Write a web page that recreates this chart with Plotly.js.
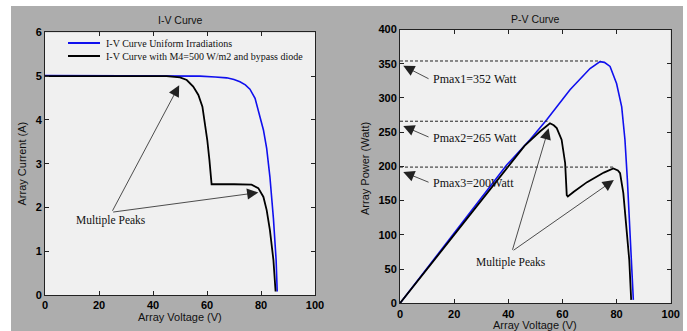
<!DOCTYPE html>
<html>
<head>
<meta charset="utf-8">
<script src="https://cdn.plot.ly/plotly-3.0.1.min.js"></script>
<style>html,body{margin:0;padding:0;background:#fff;}#chart{width:687px;height:331px;}</style>
</head>
<body>
<div id="chart"></div>
<script>
// ---- I-V curve data ----
const ivVoltUniform = [0, 20, 42.6, 57.4, 63, 67.3, 70, 72.2, 74.2, 75.9, 77.8, 79.4, 80.9, 82.1, 83.3, 84.6, 85.6, 86.0];
const ivCurUniform  = [5.01, 5.01, 5.01, 5.0, 4.98, 4.96, 4.92, 4.87, 4.80, 4.70, 4.49, 4.15, 3.77, 3.35, 2.70, 1.75, 0.80, 0.08];
const ivVoltShaded  = [0, 20, 45, 50, 52.5, 54.9, 56.8, 58.3, 59.3, 60.1, 60.9, 61.4, 61.7, 70, 76.5, 79, 80.9, 82.1, 83.3, 84.6, 85.4];
const ivCurShaded   = [5.0, 5.0, 5.0, 4.97, 4.91, 4.76, 4.57, 4.30, 3.92, 3.54, 3.08, 2.6, 2.53, 2.53, 2.52, 2.44, 2.24, 1.94, 1.48, 0.80, 0.08];

// ---- P-V curve data ----
const pvVoltUniform = [0, 39.4, 48, 54.2, 62.8, 70.2, 73.9, 75.5, 77.6, 80, 81.9, 83.1, 84, 84.8, 85.6, 86.2];
const pvPowUniform  = [0, 202, 239, 268, 312, 343, 353, 352, 346, 321, 287, 239, 180, 120, 63, 5];
const pvVoltShaded  = [0, 40, 46, 51.7, 54, 55.4, 56.8, 57.9, 59.7, 61, 61.6, 62, 64.2, 69.1, 75.3, 78.8, 80.5, 81.3, 82.5, 83.7, 84.7, 85.4];
const pvPowShaded   = [0, 200, 230, 251, 259, 263, 260, 256, 239, 205, 158, 156, 163, 177, 191, 197, 194, 190, 161, 112, 63, 5];

// ---- labels ----
const seriesNames = ['I-V Curve Uniform Irradiations', 'I-V Curve with M4=500 W/m2 and bypass diode'];
const axisTitles  = {ivX: 'Array Voltage (V)', ivY: 'Array Current (A)', pvX: 'Array Voltage (V)', pvY: 'Array Power (Watt)'};
const pmaxLabels  = ['Pmax1=352 Watt', 'Pmax2=265 Watt', 'Pmax3=200Watt'];
const pmaxLevels  = [354, 266, 199];   // dashed reference levels (W)
const pmaxVolts   = [74, 54.5, 79];    // voltage where each dashed line ends
const ivPeakV = [49.7, 79];  const ivPeakI = [4.79, 2.34];
const pvPeakV = [54.9, 79];  const pvPeakP = [255.7, 180];

const W = 687, H = 331;
const px = v => v / W, py = v => 1 - v / H;

const tickFont = {family: 'Liberation Sans, Arial, sans-serif', size: 11, color: '#000', weight: 700};
const titleFont = {family: 'Liberation Sans, Arial, sans-serif', size: 11, color: '#111'};
const serif = 'Liberation Serif, Times New Roman, serif';

function axis(extra) {
  return Object.assign({
    showline: true, linecolor: '#222', linewidth: 1, mirror: 'ticks',
    ticks: 'inside', ticklen: 4, tickcolor: '#222', showgrid: false, zeroline: false,
    tickfont: tickFont, fixedrange: true
  }, extra);
}

const blue = '#1010ee', black = '#000';
const traces = [
  {x: ivVoltUniform, y: ivCurUniform, xaxis: 'x', yaxis: 'y', mode: 'lines', name: seriesNames[0], line: {color: blue, width: 1.6}},
  {x: ivVoltShaded,  y: ivCurShaded,  xaxis: 'x', yaxis: 'y', mode: 'lines', name: seriesNames[1], line: {color: black, width: 1.8}},
  {x: pvVoltUniform, y: pvPowUniform, xaxis: 'x2', yaxis: 'y2', mode: 'lines', name: seriesNames[0], line: {color: blue, width: 1.6}},
  {x: pvVoltShaded,  y: pvPowShaded,  xaxis: 'x2', yaxis: 'y2', mode: 'lines', name: seriesNames[1], line: {color: black, width: 1.8}}
];

const shapes = [
  {type: 'rect', xref: 'paper', yref: 'paper', x0: 0, x1: px(11), y0: 0, y1: 1, fillcolor: '#fff', line: {width: 0}, layer: 'below'},
  {type: 'rect', xref: 'paper', yref: 'paper', x0: 0, x1: 1, y0: py(6), y1: 1, fillcolor: '#fff', line: {width: 0}, layer: 'below'},
  {type: 'rect', xref: 'paper', yref: 'paper', x0: px(683), x1: 1, y0: 0, y1: 1, fillcolor: '#fff', line: {width: 0}, layer: 'below'},
  // legend samples
  {type: 'line', xref: 'paper', yref: 'paper', x0: px(68), x1: px(100), y0: py(43), y1: py(43), line: {color: blue, width: 2}},
  {type: 'line', xref: 'paper', yref: 'paper', x0: px(68), x1: px(100), y0: py(56), y1: py(56), line: {color: black, width: 2}}
];
pmaxLevels.forEach((lv, i) => shapes.push({
  type: 'line', xref: 'x2', yref: 'y2', x0: 0, x1: pmaxVolts[i], y0: lv, y1: lv,
  line: {color: '#222', width: 1, dash: '3px,2px'}
}));

const arrowStyle = {showarrow: true, text: '', arrowhead: 2, arrowsize: 2.8, arrowwidth: 0.8, arrowcolor: '#222', standoff: 0};
const sub = (x, y, text, font, extra) => Object.assign({xref: 'paper', yref: 'paper', x: px(x), y: py(y), text: text, showarrow: false, font: font, xanchor: 'center', yanchor: 'middle'}, extra || {});
const annotations = [
  sub(180, 20, 'I-V Curve', {family: titleFont.family, size: 10.5, color: '#111'}),
  sub(535, 18.5, 'P-V Curve', {family: titleFont.family, size: 10.5, color: '#111'}),
  sub(180, 317, axisTitles.ivX, titleFont),
  sub(535, 325, axisTitles.pvX, titleFont),
  sub(21.5, 164, axisTitles.ivY, titleFont, {textangle: -90}),
  sub(365, 169, axisTitles.pvY, titleFont, {textangle: -90}),
  sub(104, 43, seriesNames[0], {family: serif, size: 10, color: '#111'}, {xanchor: 'left'}),
  sub(104, 56, seriesNames[1], {family: serif, size: 10, color: '#111'}, {xanchor: 'left'}),
  {xref: 'x', yref: 'y', x: 24.3, y: 1.71, text: 'Multiple Peaks', showarrow: false, font: {family: serif, size: 11.5, color: '#111'}},
  {xref: 'x2', yref: 'y2', x: 40.9, y: 59, text: 'Multiple Peaks', showarrow: false, font: {family: serif, size: 11.5, color: '#111'}}
];
ivPeakV.forEach((v, i) => annotations.push(Object.assign({xref: 'x', yref: 'y', axref: 'x', ayref: 'y', x: v, y: ivPeakI[i], ax: 24.7, ay: 1.89}, arrowStyle)));
pvPeakV.forEach((v, i) => annotations.push(Object.assign({xref: 'x2', yref: 'y2', axref: 'x2', ayref: 'y2', x: v, y: pvPeakP[i], ax: 41.4, ay: 76}, arrowStyle)));
const pmaxTextP = [327, 242, 176];
pmaxLabels.forEach((t, i) => {
  annotations.push({xref: 'x2', yref: 'y2', x: 11.5, y: pmaxTextP[i], text: t, showarrow: false, xanchor: 'left', yanchor: 'middle', font: {family: serif, size: 12, color: '#111'}});
  annotations.push(Object.assign({xref: 'x2', yref: 'y2', axref: 'x2', ayref: 'y2', x: 1.2, y: pmaxLevels[i] - 7, ax: 11.1, ay: pmaxTextP[i]}, arrowStyle));
});

const layout = {
  width: W, height: H, margin: {l: 0, r: 0, t: 0, b: 0},
  paper_bgcolor: '#adadad', plot_bgcolor: '#f0f0f0', showlegend: false,
  xaxis: axis({domain: [px(45), px(315)], range: [0, 100], dtick: 20, anchor: 'y'}),
  yaxis: axis({domain: [py(295), py(32.3)], range: [0, 6], dtick: 1, anchor: 'x'}),
  xaxis2: axis({domain: [px(400), px(670.7)], range: [0, 100], dtick: 20, anchor: 'y2'}),
  yaxis2: axis({domain: [py(303.3), py(29.5)], range: [0, 400], dtick: 50, anchor: 'x2'}),
  shapes: shapes, annotations: annotations
};

Plotly.newPlot('chart', traces, layout, {staticPlot: true, displayModeBar: false});
</script>
</body>
</html>
